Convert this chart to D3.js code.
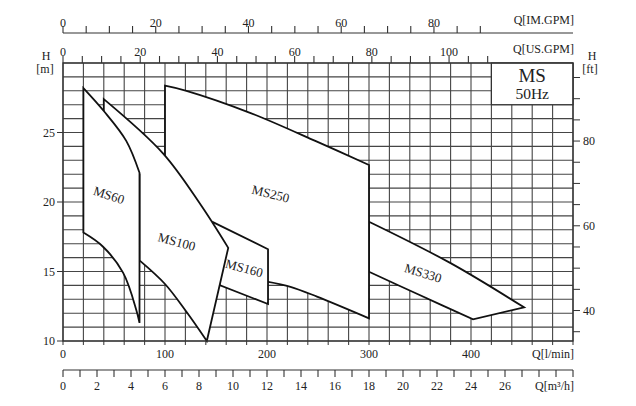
<!DOCTYPE html>
<html>
<head>
<meta charset="utf-8">
<script src="https://cdn.jsdelivr.net/npm/d3@7"></script>
<style>
  html, body { margin: 0; padding: 0; background: #fff; overflow: hidden; }
  svg { display: block; }
  svg text { font-family: 'Liberation Serif', 'Times New Roman', serif; fill: #222; }
  .grid line { stroke: #454545; stroke-width: 1.1; }
  .axis line { stroke: #333; stroke-width: 1.1; }
  .curve { fill: #fff; stroke: #111; stroke-width: 1.8; stroke-linejoin: miter; }
</style>
</head>
<body>
<div id="chart"></div>
<script>
// flow in l/min, head in m
const seriesNames = ['MS330', 'MS250', 'MS160', 'MS100', 'MS60'];

// upper edge left->right, lower edge right->left, then points hidden under the next envelope
const ms60Top = [[20, 28.2], [40, 26.55], [62, 24.4], [75, 22.1]];
const ms60Bottom = [[75, 11.3], [72, 12.2], [59, 14.9], [39, 16.8], [20, 17.8]];
const ms60Hidden = [];

const ms100Top = [[40, 27.4], [98, 23.5], [135, 19.8], [162, 16.7]];
const ms100Bottom = [[141, 10], [121, 12.1], [100, 14.1], [75, 15.8]];
const ms100Hidden = [[75, 22], [40, 26]];

const ms160Top = [[147, 18.55], [201, 16.6]];
const ms160Bottom = [[201, 12.66], [154, 14.0]];
const ms160Hidden = [[140, 16]];

const ms250Top = [[100, 28.37], [121, 28.0], [184, 26.4], [249, 24.34], [300, 22.66]];
const ms250Bottom = [[300, 11.63], [249, 13.19], [223, 13.9], [200, 14.27]];
const ms250Hidden = [[170, 15.0], [150, 16], [100, 20]];

const ms330Top = [[300, 18.58], [380, 15.6], [452, 12.42]];
const ms330Bottom = [[402, 11.56], [347.5, 13.38], [300, 14.98]];
const ms330Hidden = [];

const envelopes = {
  MS60: [ms60Top, ms60Bottom, ms60Hidden],
  MS100: [ms100Top, ms100Bottom, ms100Hidden],
  MS160: [ms160Top, ms160Bottom, ms160Hidden],
  MS250: [ms250Top, ms250Bottom, ms250Hidden],
  MS330: [ms330Top, ms330Bottom, ms330Hidden]
};

// label anchors (l/min, m) and tilt
const labelAt = {
  MS60: [45, 20.5, 18],
  MS100: [111.5, 17.15, 15],
  MS160: [177.7, 15.25, 15],
  MS250: [203.6, 20.6, 14],
  MS330: [353, 14.9, 17]
};

const lminTicks = [0, 100, 200, 300, 400];
const m3hTicks = d3.range(0, 31, 1);
const m3hLabels = [0, 2, 4, 6, 8, 10, 12, 14, 16, 18, 20, 22, 24, 26];
const usGpmTicks = d3.range(0, 111, 5);
const usGpmLabels = [0, 20, 40, 60, 80, 100];
const imGpmTicks = d3.range(0, 91, 5);
const imGpmLabels = [0, 20, 40, 60, 80];
const hTicksM = [10, 15, 20, 25];
const ftTicks = d3.range(35, 100, 5);
const ftLabels = [40, 60, 80];

const LMIN_PER_M3H = 1000 / 60;
const LMIN_PER_USGPM = 3.785;
const LMIN_PER_IMGPM = 4.546;
const M_PER_FT = 0.3048;

const width = 636;
const height = 406;
const margin = { top: 63, right: 63, bottom: 65, left: 63 };
const innerWidth = width - margin.left - margin.right;
const innerHeight = height - margin.top - margin.bottom;

const svg = d3.select('#chart')
  .append('svg')
    .attr('width', width)
    .attr('height', height);

const g = svg.append('g')
  .attr('transform', `translate(${margin.left}, ${margin.top})`);

const x = d3.scaleLinear().domain([0, 500]).range([0, innerWidth]);
const y = d3.scaleLinear().domain([10, 30]).range([innerHeight, 0]);

// small helper: text centred vertically on y
const label = (sel, anchor = 'middle', size = 12) => sel
  .attr('text-anchor', anchor)
  .attr('dy', '0.35em')
  .attr('font-size', size);

// grid
const grid = g.append('g').attr('class', 'grid');

grid.selectAll('.v')
  .data(d3.range(0, 501, 20))
  .enter()
  .append('line')
    .attr('x1', d => x(d))
    .attr('x2', d => x(d))
    .attr('y1', 0)
    .attr('y2', innerHeight + 4);

grid.selectAll('.h')
  .data(d3.range(10, 31, 1))
  .enter()
  .append('line')
    .attr('x1', 0)
    .attr('x2', innerWidth)
    .attr('y1', d => y(d))
    .attr('y2', d => y(d));

// legend box sits on the grid
g.append('rect')
  .attr('x', x(420))
  .attr('y', y(30))
  .attr('width', x(500) - x(420))
  .attr('height', y(27) - y(30))
  .attr('fill', '#fff')
  .attr('stroke', '#333')
  .attr('stroke-width', 1.2);

g.append('text')
  .attr('x', x(460))
  .attr('y', y(30) + 19)
  .attr('text-anchor', 'middle')
  .attr('font-size', 19)
  .text('MS');

g.append('text')
  .attr('x', x(460))
  .attr('y', y(30) + 36)
  .attr('text-anchor', 'middle')
  .attr('font-size', 15.5)
  .text('50Hz');

// envelopes
const smooth = d3.line()
  .x(d => x(d[0]))
  .y(d => y(d[1]))
  .curve(d3.curveCatmullRom.alpha(0.5));

const outline = ([top, bottom, hidden]) =>
  smooth(top)
  + smooth(bottom).replace(/^M/, 'L')
  + hidden.map(d => `L${x(d[0])},${y(d[1])}`).join('')
  + 'Z';

g.selectAll('.curve')
  .data(seriesNames)
  .enter()
  .append('path')
    .attr('class', 'curve')
    .attr('d', name => outline(envelopes[name]));

g.selectAll('.curve-label')
  .data(seriesNames)
  .enter()
  .append('text')
    .attr('class', 'curve-label')
    .call(label, 'middle', 13)
    .attr('transform', name => {
      const [q, h, a] = labelAt[name];
      return `translate(${x(q)}, ${y(h)}) rotate(${a})`;
    })
    .text(name => name);

// frame
g.append('rect')
  .attr('width', innerWidth)
  .attr('height', innerHeight)
  .attr('fill', 'none')
  .attr('stroke', '#333')
  .attr('stroke-width', 1.3);

// left axis (m)
g.selectAll('.ltick')
  .data(hTicksM)
  .enter()
  .append('line')
    .attr('x1', -6).attr('x2', 0)
    .attr('y1', d => y(d)).attr('y2', d => y(d))
    .attr('stroke', '#333');

g.selectAll('.llabel')
  .data(hTicksM)
  .enter()
  .append('text')
    .call(label, 'end')
    .attr('x', -8)
    .attr('y', d => y(d))
    .text(d => d);

g.append('text').attr('x', -17).attr('y', -3).attr('text-anchor', 'middle').attr('font-size', 12).text('H');
g.append('text').attr('x', -18).attr('y', 10).attr('text-anchor', 'middle').attr('font-size', 12).text('[m]');

// right axis (ft)
const yFt = d3.scaleLinear()
  .domain([10 / M_PER_FT, 30 / M_PER_FT])
  .range([innerHeight, 0]);

g.selectAll('.rtick')
  .data(ftTicks)
  .enter()
  .append('line')
    .attr('x1', innerWidth).attr('x2', innerWidth + 7)
    .attr('y1', d => yFt(d)).attr('y2', d => yFt(d))
    .attr('stroke', '#333');

g.selectAll('.rlabel')
  .data(ftLabels)
  .enter()
  .append('text')
    .call(label, 'start')
    .attr('x', innerWidth + 10)
    .attr('y', d => yFt(d))
    .text(d => d);

g.append('text').attr('x', innerWidth + 19).attr('y', -3).attr('text-anchor', 'middle').attr('font-size', 12).text('H');
g.append('text').attr('x', innerWidth + 17).attr('y', 10).attr('text-anchor', 'middle').attr('font-size', 12).text('[ft]');

// bottom l/min labels
g.selectAll('.blabel')
  .data(lminTicks)
  .enter()
  .append('text')
    .call(label)
    .attr('x', d => x(d))
    .attr('y', innerHeight + 13)
    .text(d => d);

g.append('text')
  .call(label, 'end')
  .attr('x', innerWidth + 1)
  .attr('y', innerHeight + 13)
  .text('Q[l/min]');

// m3/h axis
const xM3h = d3.scaleLinear().domain([0, 500 / LMIN_PER_M3H]).range([0, innerWidth]);
const m3hAxis = g.append('g')
  .attr('class', 'axis')
  .attr('transform', `translate(0, ${innerHeight + 29})`);

m3hAxis.append('line').attr('x1', 0).attr('x2', innerWidth);
m3hAxis.selectAll('.t')
  .data(m3hTicks)
  .enter()
  .append('line')
    .attr('x1', d => xM3h(d)).attr('x2', d => xM3h(d))
    .attr('y1', 0).attr('y2', 7);

m3hAxis.selectAll('text')
  .data(m3hLabels)
  .enter()
  .append('text')
    .call(label)
    .attr('x', d => xM3h(d))
    .attr('y', 16)
    .text(d => d);

m3hAxis.append('text')
  .call(label, 'end')
  .attr('x', innerWidth + 1)
  .attr('y', 16)
  .text('Q[m³/h]');

// US GPM axis along the top edge
const xUs = d3.scaleLinear().domain([0, 500 / LMIN_PER_USGPM]).range([0, innerWidth]);
const usAxis = g.append('g').attr('class', 'axis');

usAxis.selectAll('.t')
  .data(usGpmTicks)
  .enter()
  .append('line')
    .attr('x1', d => xUs(d)).attr('x2', d => xUs(d))
    .attr('y1', -7).attr('y2', 0);

usAxis.selectAll('text')
  .data(usGpmLabels)
  .enter()
  .append('text')
    .call(label)
    .attr('x', d => xUs(d))
    .attr('y', -11)
    .text(d => d);

usAxis.append('text')
  .call(label, 'end')
  .attr('x', innerWidth + 1)
  .attr('y', -14)
  .text('Q[US.GPM]');

// IM GPM axis
const xIm = d3.scaleLinear().domain([0, 500 / LMIN_PER_IMGPM]).range([0, innerWidth]);
const imAxis = g.append('g')
  .attr('class', 'axis')
  .attr('transform', 'translate(0, -30)');

imAxis.append('line').attr('x1', 0).attr('x2', innerWidth);
imAxis.selectAll('.t')
  .data(imGpmTicks)
  .enter()
  .append('line')
    .attr('x1', d => xIm(d)).attr('x2', d => xIm(d))
    .attr('y1', -7).attr('y2', 0);

imAxis.selectAll('text')
  .data(imGpmLabels)
  .enter()
  .append('text')
    .call(label)
    .attr('x', d => xIm(d))
    .attr('y', -10)
    .text(d => d);

imAxis.append('text')
  .call(label, 'end')
  .attr('x', innerWidth + 1)
  .attr('y', -13)
  .text('Q[IM.GPM]');
</script>
</body>
</html>
